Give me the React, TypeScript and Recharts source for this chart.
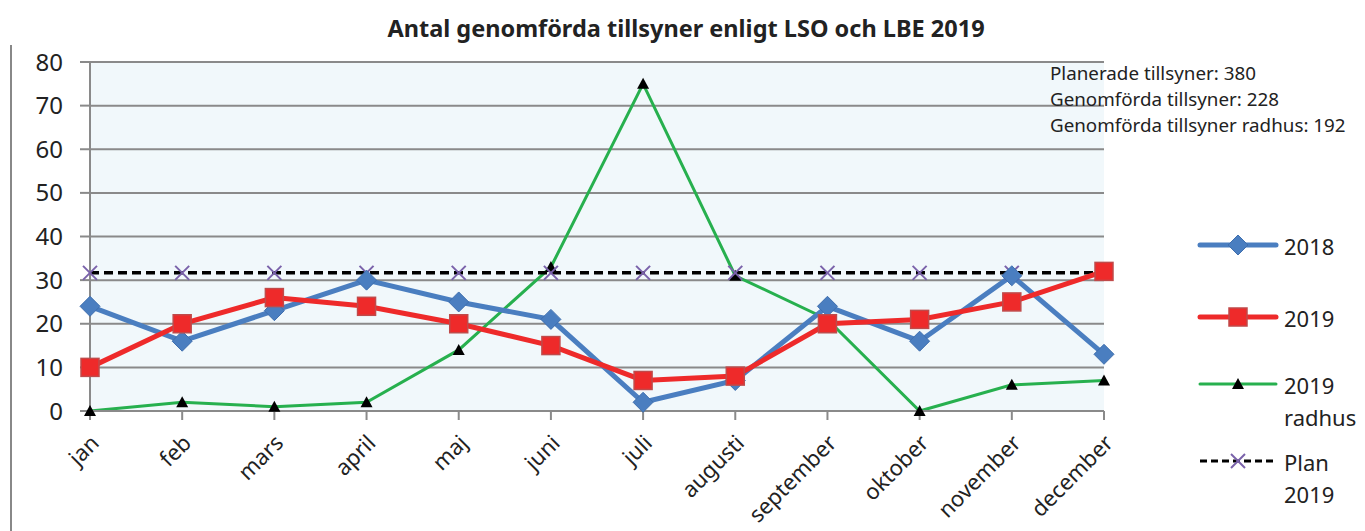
import React from 'react'
import { LineChart, Line, XAxis, YAxis, CartesianGrid } from 'recharts'

const months = ['jan', 'feb', 'mars', 'april', 'maj', 'juni', 'juli', 'augusti', 'september', 'oktober', 'november', 'december']
const values2018 = [24, 16, 23, 30, 25, 21, 2, 7, 24, 16, 31, 13]
const values2019 = [10, 20, 26, 24, 20, 15, 7, 8, 20, 21, 25, 32]
const radhus2019 = [0, 2, 1, 2, 14, 33, 75, 31, 21, 0, 6, 7]
const plan2019 = [31.67, 31.67, 31.67, 31.67, 31.67, 31.67, 31.67, 31.67, 31.67, 31.67, 31.67, 31.67]
const yTicks = [0, 10, 20, 30, 40, 50, 60, 70, 80]
const notes = ['Planerade tillsyner: 380', 'Genomförda tillsyner: 228', 'Genomförda tillsyner radhus: 192']

const FONT = '"Noto Sans", sans-serif'
const BLUE = '#4a7ec0'
const RED = '#ee2a2a'
const GREEN = '#27b04e'
const PURPLE = '#7a62aa'

const data = months.map((m, i) => ({
  month: m,
  y2018: values2018[i],
  y2019: values2019[i],
  radhus: radhus2019[i],
  plan: plan2019[i],
}))

const Diamond = ({ cx, cy }: any) => (
  <path d={`M${cx},${cy - 10} L${cx + 10},${cy} L${cx},${cy + 10} L${cx - 10},${cy} Z`} fill={BLUE} stroke="#3f6fae" strokeWidth={1} />
)
const Square = ({ cx, cy }: any) => (
  <rect x={cx - 9} y={cy - 9} width={18} height={18} fill={RED} stroke="#c04a4a" strokeWidth={1.5} />
)
const Triangle = ({ cx, cy }: any) => (
  <path d={`M${cx},${cy - 6} L${cx + 6},${cy + 5} L${cx - 6},${cy + 5} Z`} fill="#000" />
)
const Cross = ({ cx, cy }: any) => (
  <g stroke={PURPLE} strokeWidth={2}>
    <line x1={cx - 7} y1={cy - 7} x2={cx + 7} y2={cy + 7} />
    <line x1={cx - 7} y1={cy + 7} x2={cx + 7} y2={cy - 7} />
  </g>
)

const MonthTick = ({ x, y, payload }: any) => (
  <text x={x + 4} y={y + 16} transform={`rotate(-45, ${x + 4}, ${y + 16})`} textAnchor="end" dominantBaseline="central" fontSize={22} fontFamily={FONT} fill="#222">
    {payload.value}
  </text>
)

const legendItems = [
  { label: ['2018'], color: BLUE, width: 5, dash: undefined, marker: 'diamond', top: 0 },
  { label: ['2019'], color: RED, width: 5, dash: undefined, marker: 'square', top: 72 },
  { label: ['2019', 'radhus'], color: GREEN, width: 3, dash: undefined, marker: 'triangle', top: 139 },
  { label: ['Plan', '2019'], color: '#000', width: 3, dash: '7 4', marker: 'cross', top: 216 },
]

const ChartLegend = () => (
  <div style={{ position: 'absolute', left: 1196, top: 230, width: 170, height: 300, fontFamily: FONT }}>
    {legendItems.map((it) => (
      <div key={it.label.join()} style={{ position: 'absolute', left: 0, top: it.top }}>
        <svg width={84} height={30} style={{ position: 'absolute', left: 0, top: 0 }}>
          <line x1={4} y1={15} x2={80} y2={15} stroke={it.color} strokeWidth={it.width} strokeDasharray={it.dash} strokeLinecap={it.dash ? 'butt' : 'round'} />
          {it.marker === 'diamond' && <Diamond cx={42} cy={15} />}
          {it.marker === 'square' && <Square cx={42} cy={15} />}
          {it.marker === 'triangle' && <Triangle cx={42} cy={15} />}
          {it.marker === 'cross' && <Cross cx={42} cy={15} />}
        </svg>
        <div style={{ position: 'absolute', left: 88, top: 0, fontSize: 22, lineHeight: '32px', color: '#222', whiteSpace: 'nowrap' }}>
          {it.label.map((l) => <div key={l}>{l}</div>)}
        </div>
      </div>
    ))}
  </div>
)

export default function App() {
  return (
    <div style={{ position: 'absolute', left: 0, top: 0, width: 1365, height: 531, background: '#fff', fontFamily: FONT }}>
      <div style={{ position: 'absolute', left: 10, top: 45, width: 2, height: 486, background: '#888' }} />
      <div style={{ position: 'absolute', left: 0, width: 1372, top: 11, textAlign: 'center', fontSize: 23.5, lineHeight: '34px', fontWeight: 700, color: '#222' }}>
        Antal genomförda tillsyner enligt LSO och LBE 2019
      </div>
      <LineChart width={1365} height={531} data={data} margin={{ top: 62, right: 261, bottom: 10, left: 10 }}>
        <CartesianGrid vertical={false} stroke="#8a8a8a" strokeWidth={2} fill="#f1f8fb" fillOpacity={1} />
        <XAxis
          dataKey="month"
          scale="point"
          padding={{ left: 0, right: 0 }}
          interval={0}
          height={110}
          tick={<MonthTick />}
          tickSize={9}
          tickLine={{ stroke: '#8a8a8a', strokeWidth: 2 }}
          axisLine={{ stroke: '#8a8a8a', strokeWidth: 2 }}
        />
        <YAxis
          domain={[0, 80]}
          ticks={yTicks}
          width={80}
          tickSize={10}
          tickMargin={17}
          tick={{ fontSize: 24, fontFamily: FONT, fill: '#222' }}
          tickLine={{ stroke: '#8a8a8a', strokeWidth: 2 }}
          axisLine={{ stroke: '#8a8a8a', strokeWidth: 2 }}
        />
        <Line dataKey="radhus" stroke={GREEN} strokeWidth={3} dot={<Triangle />} activeDot={false} isAnimationActive={false} />
        <Line dataKey="plan" stroke="#000" strokeWidth={3.5} strokeDasharray="9 5" dot={<Cross />} activeDot={false} isAnimationActive={false} />
        <Line dataKey="y2018" stroke={BLUE} strokeWidth={5} dot={<Diamond />} activeDot={false} isAnimationActive={false} />
        <Line dataKey="y2019" stroke={RED} strokeWidth={5} dot={<Square />} activeDot={false} isAnimationActive={false} />
      </LineChart>
      <div style={{ position: 'absolute', left: 1050, top: 60, fontSize: 18.8, lineHeight: '26px', color: '#222' }}>
        {notes.map((n) => <div key={n}>{n}</div>)}
      </div>
      <ChartLegend />
    </div>
  )
}
